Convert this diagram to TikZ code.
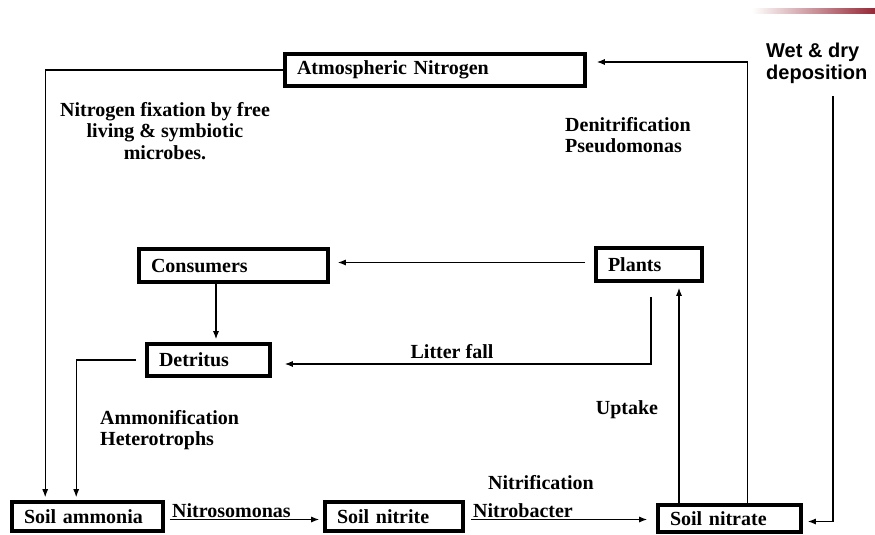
\documentclass[tikz,border=0pt]{standalone}
\usepackage{fontspec}
\setmainfont{Liberation Serif}
\newfontfamily\depfont{Liberation Sans}
\usetikzlibrary{arrows.meta}
\begin{document}
\begin{tikzpicture}[x=1pt,y=-1pt,
  every node/.style={font=\fontsize{20}{21.5}\selectfont\bfseries},
  box/.style={draw, line width=3.6pt, inner xsep=12pt, inner ysep=0pt, align=left},
  lbl/.style={inner sep=0pt},
  arr/.style={line width=1.1pt, -{Latex[length=8pt,width=6pt]}},
  ln/.style={line width=1.1pt}]
\useasboundingbox (0,0) rectangle (875,535);
\fill[white] (0,0) rectangle (875,535);
\shade[left color=white, right color={rgb,255:red,150;green,40;blue,55}] (752,9) rectangle (875,14);

% boxes
\node[box, text width=276pt, minimum height=32pt] (atm) at (435,70) {Atmospheric Nitrogen};
\node[box, text width=165pt, minimum height=33pt] (cons) at (233.5,265.5) {Consumers};
\node[box, text width=82pt, minimum height=33pt] (plants) at (649,264.5) {Plants};
\node[box, text width=99pt, minimum height=32pt] (detr) at (208.5,360) {Detritus};
\node[box, text width=127pt, minimum height=29pt] (amm) at (87.5,516.5) {Soil ammonia};
\node[box, text width=114pt, minimum height=29pt] (nitrite) at (394,516.5) {Soil nitrite};
\node[box, text width=119pt, minimum height=27pt] (nitrate) at (729.5,518.5) {Soil nitrate};

% connectors
\draw[arr, shorten >=3pt] (atm.west) -| ([xshift=35pt]amm.north west);
\draw[arr, shorten <=9pt, shorten >=3pt] (detr.west) -| ([xshift=66pt]amm.north west);
\draw[arr, shorten >=3pt] ([xshift=-17.5pt]cons.south) -- ([xshift=-17.5pt]cons.south |- detr.north);
\draw[arr, shorten <=9pt, shorten >=8pt] ([yshift=2pt]plants.west) -- ([yshift=2pt]plants.west -| cons.east);
\draw[arr, shorten <=14pt, shorten >=13pt] ([xshift=2pt]plants.south) |- ([yshift=-4pt]detr.east);
\draw[arr, shorten >=5pt] ([xshift=-50.5pt]nitrate.north) -- ([xshift=-50.5pt]nitrate.north |- plants.south);
\draw[arr, shorten >=10pt] ([xshift=18pt]nitrate.north) |- ([yshift=8pt]atm.east);
\coordinate (dep) at (833,96);
\draw[arr, shorten >=5pt] (dep) |- ([yshift=-3pt]nitrate.east);
\draw[arr, shorten <=5pt, shorten >=4pt] ([yshift=-3pt]amm.east) -- ([yshift=-3pt]amm.east -| nitrite.west);
\draw[arr, shorten <=6pt, shorten >=9pt] ([yshift=-3pt]nitrite.east) -- ([yshift=-3pt]nitrite.east -| nitrate.west);

% labels
\node[lbl, align=center] (fix) at (165,131) {Nitrogen fixation by free\\living \& symbiotic\\microbes.};
\node[lbl, align=left, anchor=west] (denit) at (565,135) {Denitrification\\Pseudomonas};
\node[lbl] (litter) at (452,352) {Litter fall};
\node[lbl] (uptake) at (627,410) {Uptake};
\node[lbl, align=left, anchor=west] (ammon) at (100,430) {Ammonification\\Heterotrophs};
\node[lbl, anchor=west] (nitroso) at (172,511) {Nitrosomonas};
\node[lbl, anchor=west] (nitrif) at (488,483) {Nitrification};
\node[lbl, anchor=west] (nitrob) at (473,511) {Nitrobacter};
\node[lbl, align=left, anchor=west, font=\depfont\fontsize{20}{22}\selectfont\bfseries] (wet) at (766,63) {Wet \& dry\\deposition};
\end{tikzpicture}
\end{document}
